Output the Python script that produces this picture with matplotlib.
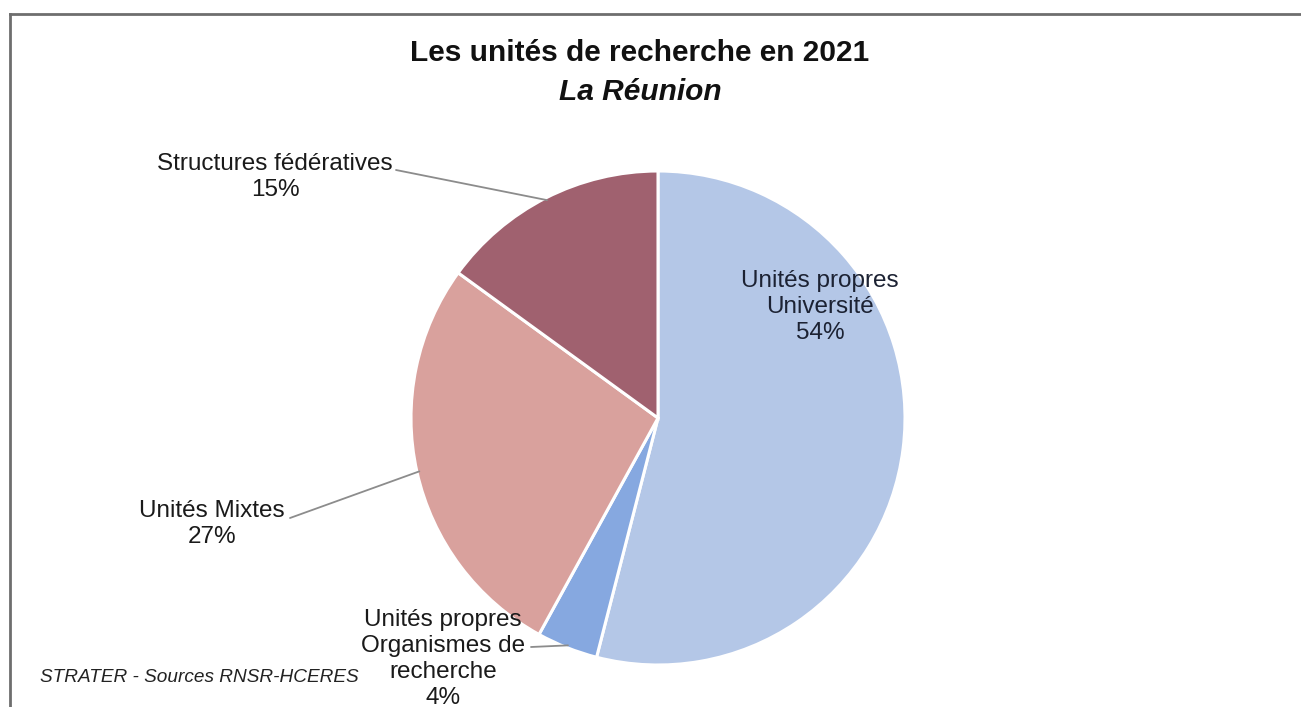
import numpy as np
import matplotlib
matplotlib.use('Agg')
import matplotlib.pyplot as plt
from matplotlib.lines import Line2D

plt.rcParams['font.family'] = ['Liberation Sans', 'DejaVu Sans']

# data
labels = ['Unités propres\nUniversité', 'Unités propres\nOrganismes de\nrecherche',
          'Unités Mixtes', 'Structures fédératives']
values = [54, 4, 27, 15]
colors = ['#B4C7E7', '#86A8E0', '#D9A19D', '#A0616F']

W, H = 1301, 707
fig = plt.figure(figsize=(W / 100, H / 100), dpi=100)
ax = fig.add_axes([0, 0, 1, 1])

def py(y):  # pixel row -> data y
	return H - y

cx, cy, R = 658, py(418), 247
wedges, _ = ax.pie(values, colors=colors, startangle=90, counterclock=False,
                   center=(cx, cy), radius=R, frame=True,
                   wedgeprops=dict(edgecolor='white', linewidth=2.2))
ax.set_xlim(0, W)
ax.set_ylim(0, H)
ax.set_aspect('equal')
ax.axis('off')

def edge_point(w, f=1.0):
	a = np.deg2rad((w.theta1 + w.theta2) / 2)
	return cx + f * R * np.cos(a), cy + f * R * np.sin(a)

fs = 17.5
ls = 1.25
# Université label inside
ax.text(820, py(307), labels[0] + '\n%d%%' % values[0], ha='center', va='center',
        fontsize=fs, color='#1c2233', linespacing=ls)

# outside labels with leader lines
out = [(1, (443, py(659)), (531, py(647))),
       (2, (212, py(524)), (290, py(518))),
       (3, (275, py(177)), (396, py(170)))]
for i, (tx, ty), (lx, ly) in out:
	ax.text(tx, ty, labels[i] + '\n%d%%' % values[i], ha='center', va='center',
	        fontsize=fs, color='#1a1a1a', linespacing=ls)
	ex, ey = edge_point(wedges[i], 0.99)
	ax.plot([lx, ex], [ly, ey], color='#8c8c8c', lw=1.3, solid_capstyle='round')

# titles
ax.text(640, py(53), 'Les unités de recherche en 2021', ha='center', va='center',
        fontsize=21.5, fontweight='bold', color='#111111')
ax.text(640, py(92), 'La Réunion', ha='center', va='center',
        fontsize=21.5, fontweight='bold', fontstyle='italic', color='#111111')

ax.text(40, py(677), 'STRATER - Sources RNSR-HCERES', ha='left', va='center',
        fontsize=13.7, fontstyle='italic', color='#222222')

# frame border (top and left)
fig.add_artist(Line2D([10 / W, 1], [1 - 14 / H, 1 - 14 / H], color='#6e6e6e', lw=2))
fig.add_artist(Line2D([10 / W, 10 / W], [0, 1 - 14 / H], color='#6e6e6e', lw=2))

fig.savefig('out.png', dpi=100, facecolor='white')
